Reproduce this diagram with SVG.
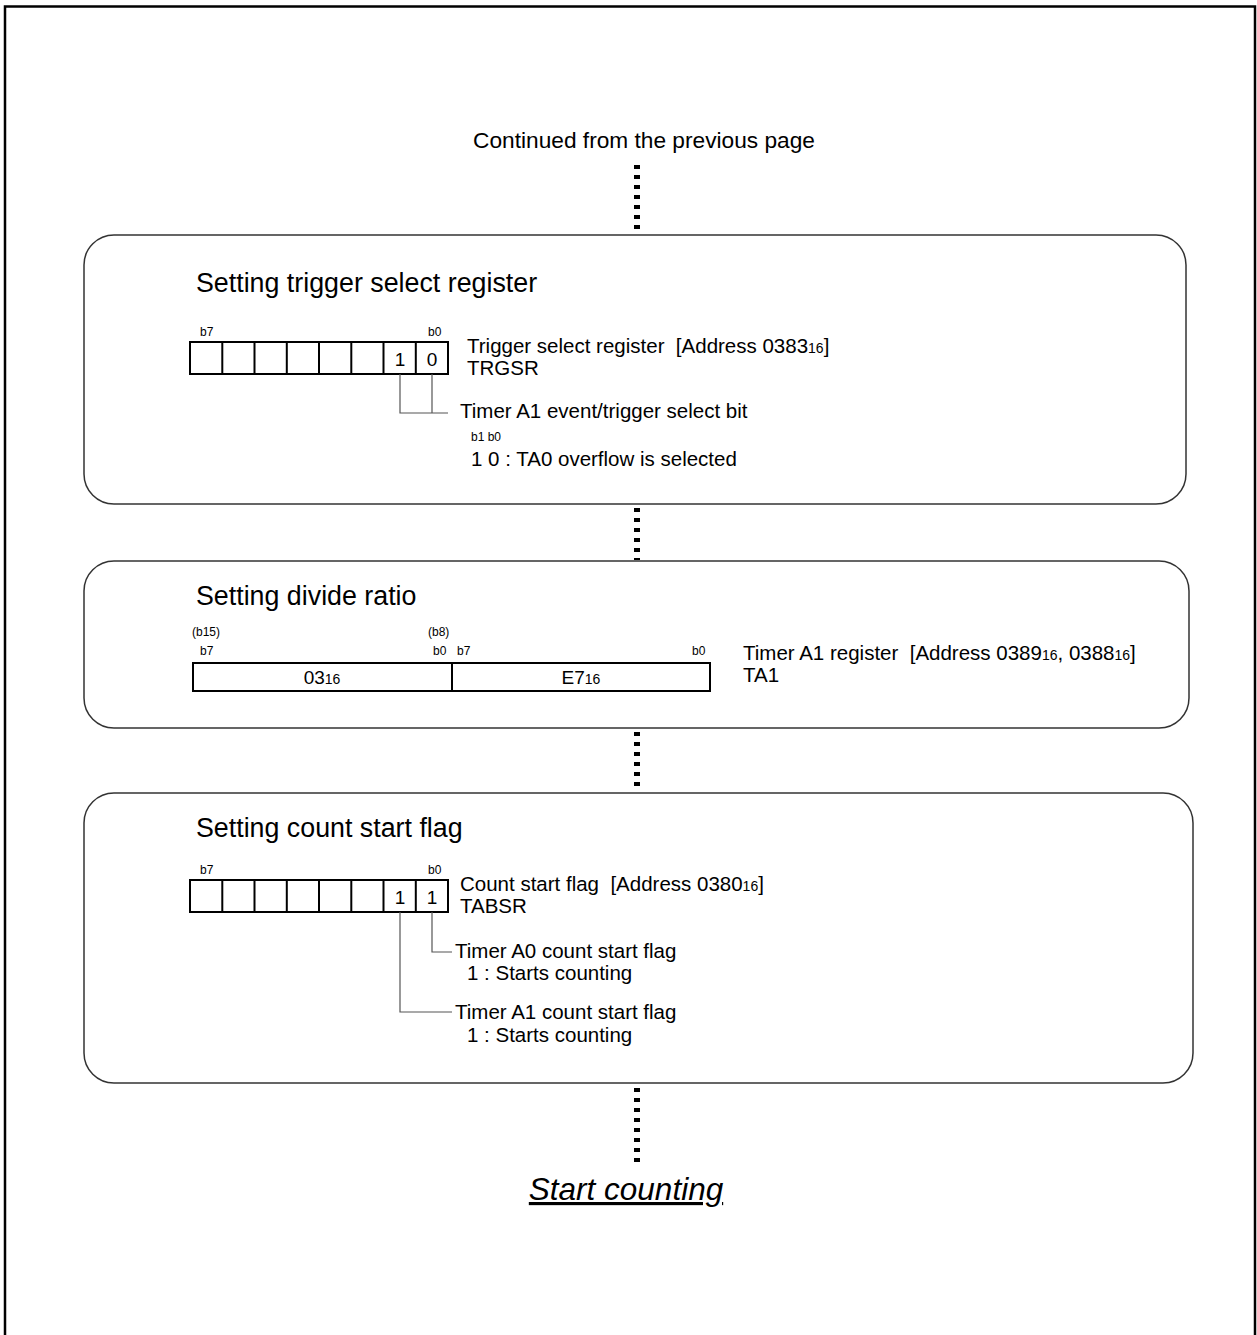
<svg xmlns="http://www.w3.org/2000/svg" width="1257" height="1335" viewBox="0 0 1257 1335">
<style>
text{font-family:"Liberation Sans",Arial,sans-serif;fill:#000}
.t{font-size:20.5px}
.h{font-size:26.8px}
.s{font-size:12px}
.c{font-size:19px}
.sub{font-size:14px}
.box{fill:#fff;stroke:#333;stroke-width:1.5}
.reg{fill:#fff;stroke:#000;stroke-width:2}
.cell{stroke:#000;stroke-width:2}
.dot{stroke:#000;stroke-width:6;stroke-dasharray:4 6;fill:none}
.ln{stroke:#555;stroke-width:1.2;fill:none}
</style>
<rect x="5" y="6.5" width="1250" height="1345" fill="#fff" stroke="#000" stroke-width="2.5"/>
<g id="connectors">
<line class="dot" x1="637" y1="165" x2="637" y2="233"/>
<line class="dot" x1="637" y1="508" x2="637" y2="560"/>
<line class="dot" x1="637" y1="732" x2="637" y2="792"/>
<line class="dot" x1="637" y1="1088" x2="637" y2="1166"/>
</g>
<g id="start">
<text x="644" y="148" text-anchor="middle" style="font-size:22.7px">Continued from the previous page</text>
</g>
<g id="box1">
<rect class="box" x="84" y="235" width="1102" height="269" rx="30"/>
<text x="196" y="292" class="h">Setting trigger select register</text>
<text x="200" y="336" class="s">b7</text>
<text x="428" y="336" class="s">b0</text>
<rect class="reg" x="190" y="342" width="258" height="32"/>
<path class="cell" d="M222.3 342v32M254.5 342v32M286.8 342v32M319 342v32M351.3 342v32M383.5 342v32M415.8 342v32"/>
<text x="400" y="366" class="c" text-anchor="middle">1</text>
<text x="432" y="366" class="c" text-anchor="middle">0</text>
<path class="ln" d="M400 374V413H448M432 374V413"/>
<text x="467" y="353" class="t" xml:space="preserve">Trigger select register  [Address 0383<tspan class="sub">16</tspan>]</text>
<text x="467" y="375" class="t">TRGSR</text>
<text x="460" y="418" class="t">Timer A1 event/trigger select bit</text>
<text x="471" y="441" class="s">b1 b0</text>
<text x="471" y="466" class="t">1 0 : TA0 overflow is selected</text>
</g>
<g id="box2">
<rect class="box" x="84" y="561" width="1105" height="167" rx="30"/>
<text x="196" y="605" class="h">Setting divide ratio</text>
<text x="192" y="636" class="s">(b15)</text>
<text x="200" y="655" class="s">b7</text>
<text x="428" y="636" class="s">(b8)</text>
<text x="433" y="655" class="s">b0</text>
<text x="457" y="655" class="s">b7</text>
<text x="692" y="655" class="s">b0</text>
<rect class="reg" x="193" y="663" width="517" height="28"/>
<line class="cell" x1="452" y1="663" x2="452" y2="691"/>
<text x="322" y="684" class="c" text-anchor="middle">03<tspan class="sub">16</tspan></text>
<text x="581" y="684" class="c" text-anchor="middle">E7<tspan class="sub">16</tspan></text>
<text x="743" y="660" class="t" xml:space="preserve">Timer A1 register  [Address 0389<tspan class="sub">16</tspan>, 0388<tspan class="sub">16</tspan>]</text>
<text x="743" y="682" class="t">TA1</text>
</g>
<g id="box3">
<rect class="box" x="84" y="793" width="1109" height="290" rx="30"/>
<text x="196" y="837" class="h">Setting count start flag</text>
<text x="200" y="874" class="s">b7</text>
<text x="428" y="874" class="s">b0</text>
<rect class="reg" x="190" y="880" width="258" height="32"/>
<path class="cell" d="M222.3 880v32M254.5 880v32M286.8 880v32M319 880v32M351.3 880v32M383.5 880v32M415.8 880v32"/>
<text x="400" y="904" class="c" text-anchor="middle">1</text>
<text x="432" y="904" class="c" text-anchor="middle">1</text>
<path class="ln" d="M432 912V952H452M400 912V1012H452"/>
<text x="460" y="891" class="t" xml:space="preserve">Count start flag  [Address 0380<tspan class="sub">16</tspan>]</text>
<text x="460" y="913" class="t">TABSR</text>
<text x="455" y="958" class="t">Timer A0 count start flag</text>
<text x="467" y="980" class="t">1 : Starts counting</text>
<text x="455" y="1019" class="t">Timer A1 count start flag</text>
<text x="467" y="1042" class="t">1 : Starts counting</text>
</g>
<g id="end">
<text x="626" y="1200" text-anchor="middle" style="font-size:31.5px;font-style:italic;text-decoration:underline">Start counting</text>
</g>
</svg>
